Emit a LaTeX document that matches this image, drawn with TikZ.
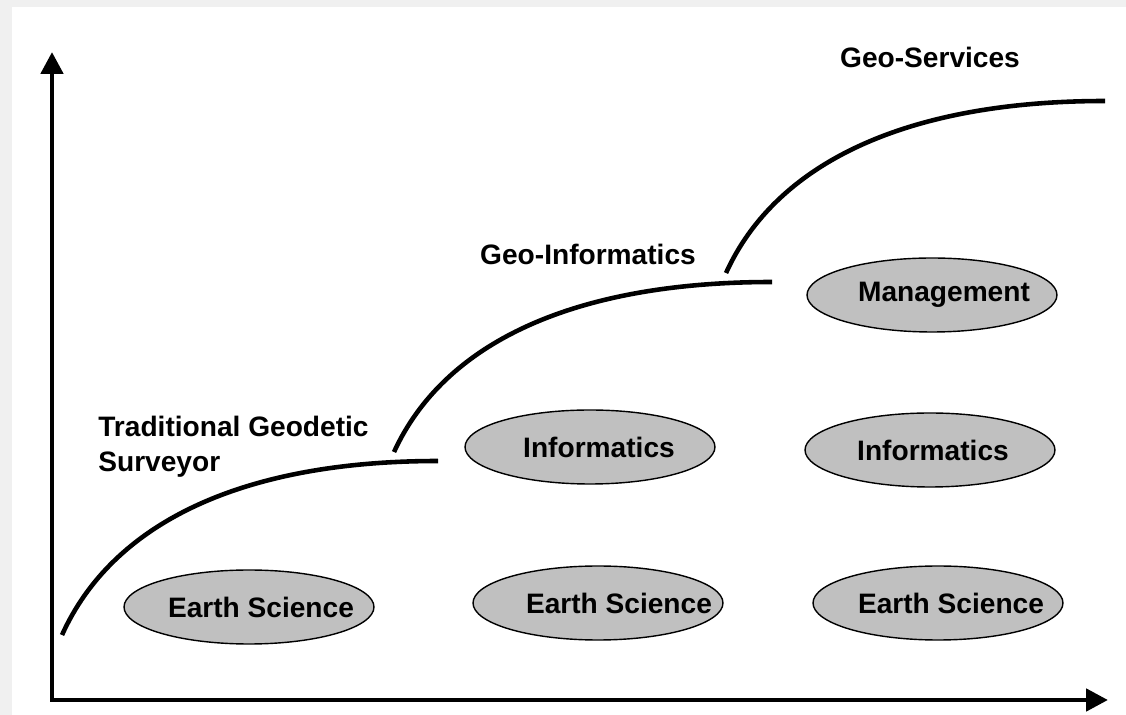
\documentclass[tikz,border=0pt]{standalone}
\usepackage{fontspec}
\setmainfont{Liberation Sans}
\usetikzlibrary{arrows.meta,shapes.geometric}
\definecolor{ovalgray}{RGB}{192,192,192}
\begin{document}
\begin{tikzpicture}[
                x=0.02cm, y=-0.02cm,
                every node/.style={font=\fontsize{16}{19.8}\selectfont\bfseries},
                axis/.style={line width=2.8pt, {Triangle[length=12.5pt,width=12.5pt]}-{Triangle[length=12.5pt,width=12.5pt]}},
                trend/.style={line width=2.6pt},
                blob/.style={ellipse, draw, line width=0.8pt, fill=ovalgray, minimum width=5cm, minimum height=1.48cm},
                tag/.style={anchor=base, inner sep=0pt},
            ]
            \fill[gray!12] (0,0) rectangle (1126,715);
            \fill[white] (12,7) rectangle (1126,715);
            \useasboundingbox (0,0) rectangle (1126,715);

            \coordinate (ytip) at (52,52);
            \coordinate (xtip) at (1108,700);
            \draw[axis] (ytip) |- (xtip);

            \coordinate (t1a) at (62,635);
            \coordinate (t1b) at (438,461);
            \coordinate (t2a) at (394,452);
            \coordinate (t2b) at (772,282);
            \coordinate (t3a) at (726,273);
            \coordinate (t3b) at (1105,101);
            \draw[trend] (t1a) .. controls (112,524) and (240,461) .. (t1b);
            \draw[trend] (t2a) .. controls (444,343) and (573,282) .. (t2b);
            \draw[trend] (t3a) .. controls (776,163) and (906,101) .. (t3b);

            \node[blob, label={[xshift=0.24cm]center:Earth Science}] (es1) at (249,607) {};
            \node[blob, label={[xshift=0.42cm]center:Earth Science}] (es2) at (598,603) {};
            \node[blob, label={[xshift=0.26cm]center:Earth Science}] (es3) at (938,603) {};
            \node[blob, label={[xshift=0.18cm]center:Informatics}] (inf1) at (590,447) {};
            \node[blob, label={[xshift=0.06cm]center:Informatics}] (inf2) at (930,450) {};
            \node[blob, label={[xshift=0.24cm]center:Management}] (mgmt) at (932,295) {};

            \node[anchor=north west, inner sep=0pt, align=left] (trad) at (98,416) {Traditional Geodetic\\Surveyor};
            \node[tag] (geoinf) at (588,265) {Geo-Informatics};
            \node[tag] (geoserv) at (930,68) {Geo-Services};
            \end{tikzpicture}
\end{document}
